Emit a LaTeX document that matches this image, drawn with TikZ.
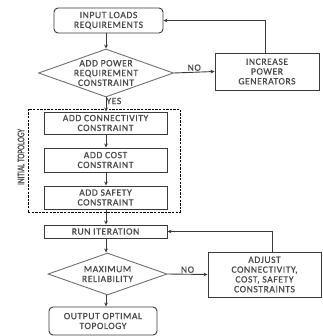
\documentclass[tikz,border=0pt]{standalone}
\usepackage{fontspec}
\setmainfont{Carlito}[LetterSpace=6,FakeBold=0.8]
\usetikzlibrary{shapes.geometric,arrows.meta}
\definecolor{linec}{HTML}{3A3A3A}
\definecolor{dmc}{HTML}{707070}
\definecolor{txtc}{HTML}{4A4A4A}
\begin{document}
\begin{tikzpicture}[x=1pt,y=-1pt,
  lbl/.style={font=\fontsize{9.6}{9.8}\selectfont, text=txtc, align=center, inner sep=0pt},
  box/.style={draw=linec, line width=0.9pt, lbl},
  rbox/.style={box, rounded corners=4pt},
  dmd/.style={diamond, draw=dmc, line width=0.9pt, inner sep=0pt},
  arr/.style={draw=linec, line width=0.9pt, -{Stealth[length=4pt,width=3.6pt]}},
  dbox/.style={draw=black, line width=0.5pt, dash pattern=on 2.4pt off 1.2pt}
]
\useasboundingbox (0,0) rectangle (322,336);
% top section
\node[rbox, minimum width=109pt, minimum height=25pt] (in) at (108.5,20.5) {INPUT LOADS\\REQUIREMENTS};
\node[dmd, minimum width=135pt, minimum height=48pt] (d1) at (106,73) {};
\node[lbl] (d1t) at (d1) {ADD POWER\\REQUIREMENT\\CONSTRAINT};
\node[box, minimum width=104pt, minimum height=37pt] (inc) at (267,71.5) {INCREASE\\POWER\\GENERATORS};
% initial topology group
\node[dbox, minimum width=152pt, minimum height=103pt, inner sep=0pt] (grp) at (104,160.5) {};
\node[lbl, rotate=90] (grpl) at (21,157) {\fontsize{10}{10}\selectfont\addfontfeature{LetterSpace=0}\scalebox{0.74}[1]{INITIAL TOPOLOGY}};
\node[box, minimum width=123pt, minimum height=22pt] (conn) at (105.5,123) {ADD CONNECTIVITY\\CONSTRAINT};
\node[box, minimum width=123pt, minimum height=24pt] (cost) at (105.5,160) {ADD COST\\CONSTRAINT};
\node[box, minimum width=123pt, minimum height=23pt] (saf) at (105.5,197.5) {ADD SAFETY\\CONSTRAINT};
% bottom section
\node[box, minimum width=123pt, minimum height=13pt] (run) at (105.5,231.5) {RUN ITERATION};
\node[dmd, minimum width=119pt, minimum height=42pt] (d2) at (107.5,274) {};
\node[lbl] (d2t) at (d2) {MAXIMUM\\RELIABILITY};
\node[box, minimum width=113pt, minimum height=45pt] (adj) at (264.5,274.5) {ADJUST\\CONNECTIVITY,\\COST, SAFETY\\CONSTRAINTS};
\node[rbox, minimum width=108pt, minimum height=28pt] (out) at (103,321) {OUTPUT OPTIMAL\\TOPOLOGY};
% connectors
\draw[arr] (d1.north |- in.south) -- (d1.north);
\draw[arr] (d1.east) -- (inc.west) node[lbl, midway, above=1pt] (no1) {NO};
\draw[arr] ([xshift=-2pt]inc.north) |- (in.east);
\draw[arr] (d1.south) -- (d1.south |- conn.north) node[lbl, pos=0.25, right=0pt] (yes) {YES};
\draw[arr] (d1.south |- conn.south) -- (d1.south |- cost.north);
\draw[arr] (d1.south |- cost.south) -- (d1.south |- saf.north);
\draw[arr] (d1.south |- saf.south) -- (d1.south |- run.north);
\draw[arr] (d1.south |- run.south) -- (d1.south |- d2.north);
\draw[arr] (d1.south |- d2.south) -- (d1.south |- out.north);
\draw[arr] (d2.east) -- (adj.west) node[lbl, midway, above=1pt] (no2) {NO};
\draw[arr] ([xshift=8pt]adj.north) |- (run.east);
\end{tikzpicture}
\end{document}
